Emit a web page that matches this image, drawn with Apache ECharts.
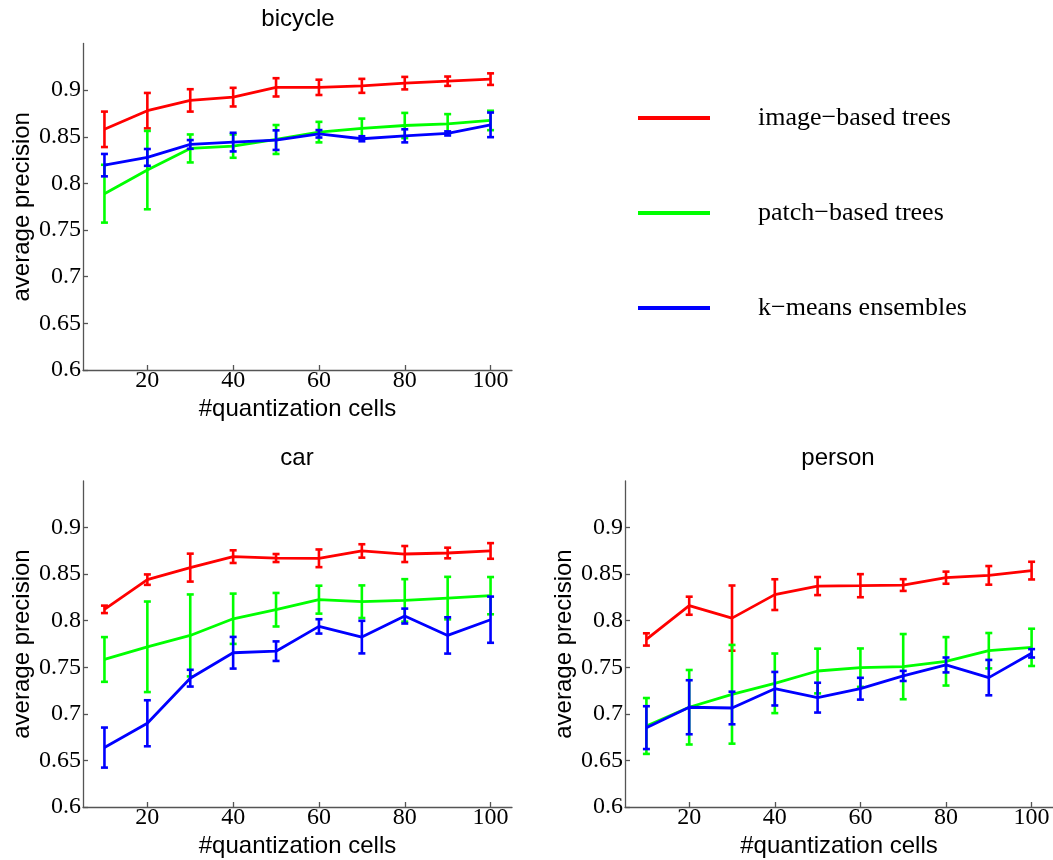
<!DOCTYPE html>
<html>
<head>
<meta charset="utf-8">
<script src="https://cdn.jsdelivr.net/npm/echarts@6/dist/echarts.min.js"></script>
<style>html,body{margin:0;padding:0;background:#fff;}#c{width:1053px;height:860px;}</style>
</head>
<body>
<div id="c"></div>
<script>
const xCells = [10, 20, 30, 40, 50, 60, 70, 80, 90, 100];
const xTicks = [20, 40, 60, 80, 100];
const yTicks = [0.6, 0.65, 0.7, 0.75, 0.8, 0.85, 0.9];
const seriesNames = ['image\u2212based trees', 'patch\u2212based trees', 'k\u2212means ensembles'];
const panelTitles = ['bicycle', 'car', 'person'];

const bicycleImage = [0.858, 0.878, 0.889, 0.8925, 0.903, 0.903, 0.9046, 0.9075, 0.9096, 0.9118];
const bicycleImageErr = [0.019, 0.019, 0.012, 0.010, 0.0098, 0.0082, 0.0075, 0.0067, 0.005, 0.0062];
const bicyclePatch = [0.789, 0.8143, 0.8375, 0.84, 0.8471, 0.855, 0.859, 0.8621, 0.8639, 0.8675];
const bicyclePatchErr = [0.031, 0.042, 0.015, 0.0125, 0.0155, 0.011, 0.0105, 0.0135, 0.0104, 0.0104];
const bicycleKmeans = [0.8196, 0.8279, 0.8418, 0.8443, 0.8464, 0.8532, 0.8479, 0.851, 0.8536, 0.8628];
const bicycleKmeansErr = [0.012, 0.009, 0.0047, 0.01, 0.0105, 0.004, 0.0027, 0.007, 0.0022, 0.0132];

const carImage = [0.8122, 0.8441, 0.857, 0.8688, 0.8673, 0.867, 0.8749, 0.8716, 0.8727, 0.8749];
const carImageErr = [0.004, 0.0056, 0.015, 0.0068, 0.0043, 0.0095, 0.0072, 0.0086, 0.0057, 0.0084];
const carPatch = [0.7584, 0.772, 0.7842, 0.8021, 0.8118, 0.8226, 0.8204, 0.8218, 0.8243, 0.8269];
const carPatchErr = [0.024, 0.0486, 0.044, 0.027, 0.018, 0.015, 0.0175, 0.0228, 0.0228, 0.02];
const carKmeans = [0.6638, 0.6899, 0.7383, 0.7656, 0.7673, 0.7939, 0.7824, 0.805, 0.7842, 0.8011];
const carKmeansErr = [0.0215, 0.0247, 0.009, 0.017, 0.0105, 0.0077, 0.0175, 0.008, 0.0195, 0.0248];

const personImage = [0.7799, 0.8161, 0.8028, 0.828, 0.8372, 0.8376, 0.8383, 0.8462, 0.8487, 0.8538];
const personImageErr = [0.0066, 0.0097, 0.035, 0.0165, 0.0097, 0.0124, 0.0063, 0.0065, 0.01, 0.0095];
const personPatch = [0.687, 0.7071, 0.721, 0.7328, 0.746, 0.7496, 0.7507, 0.7564, 0.7678, 0.7714];
const personPatchErr = [0.03, 0.04, 0.053, 0.032, 0.024, 0.0206, 0.035, 0.026, 0.019, 0.02];
const personKmeans = [0.6852, 0.7071, 0.7063, 0.727, 0.7174, 0.727, 0.7407, 0.7525, 0.7389, 0.765];
const personKmeansErr = [0.023, 0.029, 0.0175, 0.018, 0.016, 0.0117, 0.0054, 0.008, 0.019, 0.0045];

const panels = [
  [[bicycleImage, bicycleImageErr], [bicyclePatch, bicyclePatchErr], [bicycleKmeans, bicycleKmeansErr]],
  [[carImage, carImageErr], [carPatch, carPatchErr], [carKmeans, carKmeansErr]],
  [[personImage, personImageErr], [personPatch, personPatchErr], [personKmeans, personKmeansErr]]
];
const colors = ['#ff0000', '#00ff00', '#0000ff'];

const SERIF = 'Liberation Serif, Times New Roman, serif';
const SANS = 'Liberation Sans, Arial, sans-serif';

const grids = [
  {left: 83, top: 43.5, width: 429, height: 326.5},
  {left: 83, top: 481, width: 429, height: 326},
  {left: 625, top: 481, width: 428.5, height: 326}
];

const axisLineStyle = {color: '#555', width: 1.3};
const xAxes = grids.map((g, i) => ({
  gridIndex: i, type: 'value', min: 5, max: 105,
  axisLine: {show: true, onZero: false, lineStyle: axisLineStyle},
  axisTick: {show: true, inside: true, length: 5, customValues: xTicks, lineStyle: axisLineStyle},
  axisLabel: {customValues: xTicks, fontFamily: SERIF, fontSize: 24, color: '#000', margin: -1},
  splitLine: {show: false},
  name: '#quantization cells', nameLocation: 'middle', nameGap: 27,
  nameTextStyle: {fontFamily: SANS, fontSize: 24, color: '#000'}
}));
const yAxes = grids.map((g, i) => ({
  gridIndex: i, type: 'value', min: 0.6, max: 0.95,
  axisLine: {show: true, onZero: false, lineStyle: axisLineStyle},
  axisTick: {show: true, inside: true, length: 5, customValues: yTicks, lineStyle: axisLineStyle},
  axisLabel: {customValues: yTicks, fontFamily: SERIF, fontSize: 24, color: '#000', margin: 2,
    formatter: v => String(+(+v).toFixed(2))},
  splitLine: {show: false},
  name: 'average precision', nameLocation: 'middle', nameGap: 49,
  nameTextStyle: {fontFamily: SANS, fontSize: 24, color: '#000'}
}));

function errRender(params, api) {
  const x = api.value(0), lo = api.value(1), hi = api.value(2);
  const a = api.coord([x, lo]), b = api.coord([x, hi]);
  const hw = 3.5;
  const st = {stroke: api.visual('color'), lineWidth: 2.6};
  return {type: 'group', children: [
    {type: 'line', shape: {x1: a[0], y1: a[1], x2: b[0], y2: b[1]}, style: st},
    {type: 'line', shape: {x1: a[0] - hw, y1: a[1], x2: a[0] + hw, y2: a[1]}, style: st},
    {type: 'line', shape: {x1: b[0] - hw, y1: b[1], x2: b[0] + hw, y2: b[1]}, style: st}
  ]};
}

const series = [];
panels.forEach((panel, pi) => {
  panel.forEach(([vals, errs], si) => {
    series.push({
      name: seriesNames[si], type: 'line', xAxisIndex: pi, yAxisIndex: pi,
      data: xCells.map((x, k) => [x, vals[k]]),
      symbol: 'none', lineStyle: {color: colors[si], width: 2.8}, itemStyle: {color: colors[si]},
      z: 2 + si * 2, animation: false
    });
    series.push({
      name: seriesNames[si], type: 'custom', xAxisIndex: pi, yAxisIndex: pi,
      renderItem: errRender, encode: {x: 0, y: [1, 2]},
      data: xCells.map((x, k) => [x, vals[k] - errs[k], vals[k] + errs[k]]),
      itemStyle: {color: colors[si]}, z: 3 + si * 2, animation: false
    });
  });
});

const titleStyle = {fontFamily: SANS, fontSize: 24, fontWeight: 'normal', color: '#000'};
const chart = echarts.init(document.getElementById('c'), null, {renderer: 'canvas'});
chart.setOption({
  backgroundColor: '#fff',
  animation: false,
  title: [
    {text: panelTitles[0], left: 293, top: 2, textAlign: 'center', textStyle: titleStyle},
    {text: panelTitles[1], left: 292, top: 441, textAlign: 'center', textStyle: titleStyle},
    {text: panelTitles[2], left: 833, top: 441, textAlign: 'center', textStyle: titleStyle}
  ],
  legend: {
    data: seriesNames.map((n, i) => ({name: n, icon: 'rect', itemStyle: {color: colors[i]}})),
    orient: 'vertical', left: 633, top: 98,
    itemWidth: 72, itemHeight: 4, itemGap: 65,
    textStyle: {fontFamily: SERIF, fontSize: 26, color: '#000', padding: [0, 0, 0, 43], lineHeight: 30},
    selectedMode: false
  },
  grid: grids,
  xAxis: xAxes,
  yAxis: yAxes,
  series: series
});
</script>
</body>
</html>
